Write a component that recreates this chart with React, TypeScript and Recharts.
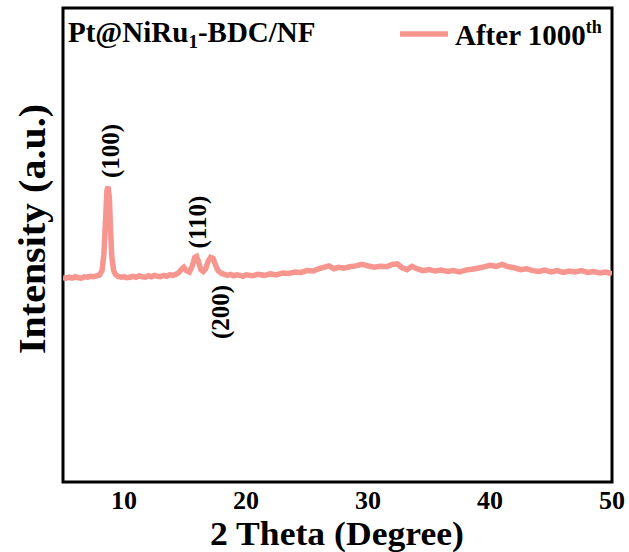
import { LineChart, Line, XAxis, YAxis, ReferenceArea } from 'recharts';

const theta = [
  5.0, 5.25, 5.5, 5.75, 6.0, 6.25, 6.5, 6.75, 7.0, 7.25, 7.5, 7.75, 8.0, 8.2, 8.35, 8.5, 8.6, 8.7, 8.8, 8.9,
  9.0, 9.15, 9.3, 9.5, 9.75, 10.0, 10.25, 10.5, 10.75, 11.0, 11.25, 11.5, 11.75, 12.0, 12.25, 12.5, 12.75,
  13.0, 13.25, 13.5, 13.75, 14.0, 14.25, 14.5, 14.75, 14.9, 15.1, 15.35, 15.6, 15.8, 15.95, 16.1, 16.3,
  16.5, 16.7, 16.9, 17.1, 17.3, 17.5, 17.7, 18.0, 18.25, 18.5, 18.75, 19.0, 19.25, 19.5, 19.75, 20.0,
  20.5, 21.0, 21.5, 22.0, 22.5, 23.0, 23.5, 24.0, 24.5, 25.0, 25.5, 26.0, 26.5, 26.8, 27.2, 27.6, 28.0,
  28.5, 29.0, 29.5, 30.0, 30.5, 31.0, 31.5, 32.0, 32.4, 32.8, 33.2, 33.6, 34.0, 34.5, 35.0, 35.5, 36.0,
  36.5, 37.0, 37.5, 38.0, 38.5, 39.0, 39.5, 40.0, 40.5, 41.0, 41.5, 42.0, 42.5, 43.0, 43.5, 44.0, 44.5,
  45.0, 45.5, 46.0, 46.5, 47.0, 47.5, 48.0, 48.5, 49.0, 49.5, 50.0,
];

const intensity = [
  43.1, 43.0, 43.2, 43.0, 43.3, 43.1, 43.0, 43.3, 43.2, 43.4, 43.3, 43.5, 43.7, 44.6, 48, 56, 61.5, 62.3, 60, 53,
  47.5, 44.6, 43.8, 43.4, 43.2, 43.3, 43.1, 43.2, 43.4, 43.2, 43.5, 43.3, 43.2, 43.5, 43.3, 43.6, 43.4,
  43.3, 43.6, 43.4, 43.7, 43.6, 43.8, 44.2, 45.0, 45.3, 44.6, 44.3, 45.6, 47.4, 47.6, 46.5, 44.8,
  44.4, 45.0, 46.6, 47.4, 47.2, 45.8, 44.6, 44.0, 43.8, 43.6, 43.8, 43.5, 43.7, 43.6, 43.4, 43.7,
  43.5, 43.8, 43.6, 43.9, 43.7, 44.1, 44.0, 44.3, 44.2, 44.6, 44.5, 45.0, 45.4, 45.6, 45.0, 45.3, 45.1,
  45.4, 45.6, 45.9, 45.6, 45.3, 45.5, 45.4, 45.9, 46.0, 45.2, 44.8, 45.5, 45.0, 44.6, 44.8, 44.5, 44.7,
  44.4, 44.6, 44.3, 44.7, 44.9, 45.1, 45.4, 45.7, 45.5, 45.9, 45.4, 45.2, 44.8, 45.0, 44.6, 44.4, 44.7,
  44.3, 44.6, 44.2, 44.5, 44.3, 44.6, 44.2, 44.4, 44.1, 44.3, 43.9,
];

const xTicks = [10, 20, 30, 40, 50];
const peakLabels = ['(100)', '(110)', '(200)'];

const data = theta.map((t, i) => ({ theta: t, y: intensity[i] }));

const font = '"Liberation Serif", "Times New Roman", serif';
const lineColor = '#F7968F';

export default function App() {
  return (
    <div style={{ position: 'absolute', left: 0, top: 0, width: 629, height: 552, background: '#fff', fontFamily: font }}>
      <LineChart width={629} height={552} data={data} margin={{ top: 8, right: 17, left: 0, bottom: 0 }}>
        <XAxis
          dataKey="theta"
          type="number"
          domain={[5, 50]}
          ticks={xTicks}
          allowDataOverflow
          axisLine={false}
          tickLine={false}
          height={70}
          tick={{ fill: '#000', fontSize: 26, fontWeight: 'bold', fontFamily: font, dy: 1 }}
        />
        <YAxis domain={[0, 100]} width={63} tick={false} axisLine={false} tickLine={false} />
        <ReferenceArea x1={5} x2={50} y1={0} y2={100} fill="none" stroke="#000" strokeWidth={3} ifOverflow="visible" />
        <Line type="linear" dataKey="y" stroke={lineColor} strokeWidth={5.5} dot={false} isAnimationActive={false} />
      </LineChart>
      <svg width={629} height={552} style={{ position: 'absolute', left: 0, top: 0, pointerEvents: 'none' }} fontFamily={font} fontWeight="bold">
        <text x={32} y={229} fontSize={37} textAnchor="middle" dominantBaseline="central" textLength={250} lengthAdjust="spacingAndGlyphs" transform="rotate(-90 32 229)">Intensity (a.u.)</text>
        <text x={337} y={545} fontSize={34} textAnchor="middle" textLength={254} lengthAdjust="spacingAndGlyphs">2 Theta (Degree)</text>
        <text x={68} y={42} fontSize={29}>
          Pt@NiRu<tspan fontSize={19} dy={6}>1</tspan><tspan dy={-6}>-BDC/NF</tspan>
        </text>
        <line x1={400} y1={34} x2={448} y2={34} stroke={lineColor} strokeWidth={5.5} />
        <text x={455} y={45} fontSize={29}>
          After 1000<tspan fontSize={18} dy={-12}>th</tspan>
        </text>
        <text x={110} y={151} fontSize={25} textAnchor="middle" dominantBaseline="central" transform="rotate(-90 110 151)">{peakLabels[0]}</text>
        <text x={197} y={222} fontSize={25} textAnchor="middle" dominantBaseline="central" transform="rotate(-90 197 222)">{peakLabels[1]}</text>
        <text x={220} y={312} fontSize={25} textAnchor="middle" dominantBaseline="central" transform="rotate(-90 220 312)">{peakLabels[2]}</text>
      </svg>
    </div>
  );
}
